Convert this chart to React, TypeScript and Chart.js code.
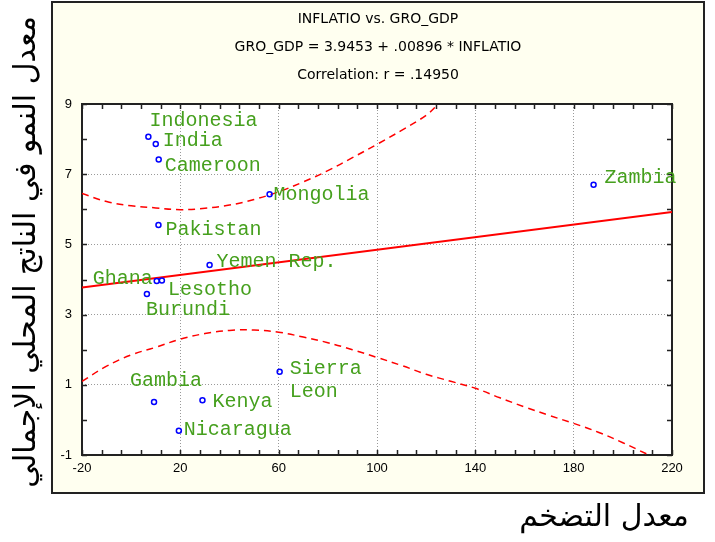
import React, { useEffect, useRef } from "react";
import { Chart, registerables } from "chart.js";

Chart.register(...registerables);

// ---- data ----
const countries = ["Indonesia", "India", "Cameroon", "Mongolia", "Pakistan", "Yemen Rep.", "Ghana", "Lesotho", "Burundi", "Sierra|Leon", "Gambia", "Kenya", "Nicaragua", "Zambia"];
const inflation = [7.0, 10.0, 11.2, 56.3, 11.1, 31.9, 10.4, 12.5, 6.4, 60.4, 9.3, 29.0, 19.4, 188.1];
const gdpGrowth = [8.07, 7.86, 7.42, 6.43, 5.55, 4.41, 3.96, 3.97, 3.59, 1.37, 0.51, 0.56, -0.31, 6.70];

const fitX = [-20, 220];
const fitY = [3.77, 5.92];

const upperX = [-20, -10, 0, 10, 20, 30, 40, 50, 60, 70, 80, 90, 100, 110, 120, 125];
const upperY = [6.45, 6.22, 6.1, 6.04, 5.99, 6.03, 6.12, 6.28, 6.5, 6.78, 7.1, 7.47, 7.85, 8.25, 8.68, 9.0];

const lowerX = [-20, -10, 0, 10, 20, 30, 40, 50, 60, 70, 80, 90, 100, 110, 120, 130, 140, 150, 160, 170, 180, 190, 200, 210];
const lowerY = [1.1, 1.53, 1.85, 2.07, 2.3, 2.46, 2.55, 2.56, 2.5, 2.36, 2.2, 2.0, 1.78, 1.55, 1.3, 1.1, 0.9, 0.63, 0.37, 0.13, -0.1, -0.35, -0.65, -0.98];

const titleLines = ["INFLATIO vs. GRO_GDP", "GRO_GDP = 3.9453 + .00896 * INFLATIO", "Correlation: r = .14950"];
const xAxisTitle = "معدل التضخم";
const yAxisTitle = "معدل النمو في الناتج المحلي الإجمالي";

const xMin = -20, xMax = 220, xStep = 8, xLabelEvery = 40;
const yMin = -1, yMax = 9, yStep = 1, yLabelEvery = 2;

// label placement (pixel offsets from the point), layout only
const labelDx = [1, 7, 6, 4, 7, 7, -4, 6, -1, 10, -24, 10, 5, 11];
const labelDy = [-11, 2, 12, 6, 10, 2, 3, 14, 21, 2, -16, 7, 4, -2];
const labelAlign = ["left", "left", "left", "left", "left", "left", "right", "left", "left", "left", "left", "left", "left", "left"];

const PANEL = { l: 52, t: 2, r: 704, b: 493 };
const CREAM = "#FFFFF0";
const GREEN = "#46a01e";

const zip = (xs: number[], ys: number[]) => xs.map((x, i) => ({ x, y: ys[i] }));

const decorPlugin = {
  id: "decor",
  beforeDraw(chart: any) {
    const { ctx, chartArea: ca } = chart;
    ctx.save();
    ctx.fillStyle = "#ffffff";
    ctx.fillRect(0, 0, chart.width, chart.height);
    ctx.fillStyle = CREAM;
    ctx.fillRect(PANEL.l, PANEL.t, PANEL.r - PANEL.l, PANEL.b - PANEL.t);
    ctx.lineWidth = 2;
    ctx.strokeStyle = "#222";
    ctx.strokeRect(PANEL.l, PANEL.t, PANEL.r - PANEL.l, PANEL.b - PANEL.t);
    ctx.fillStyle = "#ffffff";
    ctx.fillRect(ca.left, ca.top, ca.right - ca.left, ca.bottom - ca.top);
    // title lines
    ctx.fillStyle = "#000";
    ctx.font = "14px 'DejaVu Sans', sans-serif";
    ctx.textAlign = "center";
    ctx.textBaseline = "middle";
    const cx = (PANEL.l + PANEL.r) / 2;
    titleLines.forEach((t, i) => ctx.fillText(t, cx, 19 + i * 28));
    // Arabic axis titles
    ctx.font = "30px 'DejaVu Sans', sans-serif";
    ctx.direction = "rtl";
    ctx.textAlign = "center";
    ctx.fillText(xAxisTitle, 604, 518);
    ctx.save();
    ctx.translate(27, 252);
    ctx.rotate(-Math.PI / 2);
    ctx.fillText(yAxisTitle, 0, 0);
    ctx.restore();
    ctx.restore();
  },
  beforeDatasetsDraw(chart: any) {
    const { ctx, chartArea: ca, scales } = chart;
    ctx.save();
    ctx.strokeStyle = "#222";
    ctx.lineWidth = 1.5;
    const tl = 5;
    ctx.beginPath();
    for (let v = xMin; v <= xMax + 1e-9; v += xStep) {
      const px = Math.round(scales.x.getPixelForValue(v)) + 0.5;
      ctx.moveTo(px, ca.bottom); ctx.lineTo(px, ca.bottom - tl);
      ctx.moveTo(px, ca.top); ctx.lineTo(px, ca.top + tl);
    }
    for (let v = yMin; v <= yMax + 1e-9; v += yStep) {
      const py = Math.round(scales.y.getPixelForValue(v)) + 0.5;
      ctx.moveTo(ca.left, py); ctx.lineTo(ca.left + tl, py);
      ctx.moveTo(ca.right, py); ctx.lineTo(ca.right - tl, py);
    }
    ctx.stroke();
    ctx.lineWidth = 2;
    ctx.strokeRect(ca.left, ca.top, ca.right - ca.left, ca.bottom - ca.top);
    ctx.restore();
  },
  afterDatasetsDraw(chart: any) {
    const { ctx } = chart;
    const meta = chart.getDatasetMeta(0);
    ctx.save();
    ctx.fillStyle = GREEN;
    ctx.font = "20px 'Liberation Mono', 'Courier New', monospace";
    ctx.textBaseline = "alphabetic";
    countries.forEach((name, i) => {
      const el = meta.data[i];
      if (!el) return;
      ctx.textAlign = labelAlign[i] as CanvasTextAlign;
      const lines = name.split("|");
      lines.forEach((ln, j) => {
        ctx.fillText(ln, el.x + labelDx[i], el.y + labelDy[i] + j * 23);
      });
    });
    ctx.restore();
  },
};

const gridColor = (min: number, max: number, every: number) => (c: any) => {
  const v = c.tick ? c.tick.value : NaN;
  return (v - min) % every === 0 && v !== min && v !== max ? "#9a9a9a" : "rgba(0,0,0,0)";
};

export default function App() {
  const ref = useRef<HTMLCanvasElement>(null);
  useEffect(() => {
    if (!ref.current) return;
    const chart = new Chart(ref.current, {
      type: "scatter",
      data: {
        datasets: [
          {
            label: "countries",
            data: zip(inflation, gdpGrowth),
            borderColor: "#0000ff",
            backgroundColor: "rgba(0,0,0,0)",
            borderWidth: 1.5,
            pointRadius: 2.5,
            pointHoverRadius: 2.5,
            showLine: false,
          },
          {
            label: "fit",
            data: zip(fitX, fitY),
            showLine: true,
            borderColor: "#ff0000",
            borderWidth: 2,
            pointRadius: 0,
            clip: 0,
          },
          {
            label: "upper",
            data: zip(upperX, upperY),
            showLine: true,
            borderColor: "#ff0000",
            borderWidth: 1.5,
            borderDash: [7, 5],
            tension: 0.4,
            pointRadius: 0,
            clip: 0,
          },
          {
            label: "lower",
            data: zip(lowerX, lowerY),
            showLine: true,
            borderColor: "#ff0000",
            borderWidth: 1.5,
            borderDash: [7, 5],
            tension: 0.4,
            pointRadius: 0,
            clip: 0,
          },
        ],
      },
      options: {
        animation: false,
        responsive: false,
        events: [],
        layout: { padding: { left: 52, top: 104, right: 43, bottom: 62 } },
        plugins: { legend: { display: false }, tooltip: { enabled: false }, title: { display: false } },
        scales: {
          x: {
            type: "linear",
            min: xMin,
            max: xMax,
            afterFit: (s: any) => { s.height = 25; },
            border: { display: false, dash: [1, 2] },
            grid: { drawTicks: false, lineWidth: 1, color: gridColor(xMin, xMax, xLabelEvery) },
            ticks: {
              stepSize: xStep,
              autoSkip: false,
              maxRotation: 0,
              padding: 6,
              color: "#000",
              font: { family: "'Liberation Sans', Arial, sans-serif", size: 13 },
              callback: (v: any) => ((Number(v) - xMin) % xLabelEvery === 0 ? String(v) : ""),
            },
          },
          y: {
            type: "linear",
            min: yMin,
            max: yMax,
            afterFit: (s: any) => { s.width = 30; },
            border: { display: false, dash: [1, 2] },
            grid: { drawTicks: false, lineWidth: 1, color: gridColor(yMin, yMax, yLabelEvery) },
            ticks: {
              stepSize: yStep,
              autoSkip: false,
              padding: 10,
              color: "#000",
              font: { family: "'Liberation Sans', Arial, sans-serif", size: 13 },
              callback: (v: any) => ((Number(v) - yMin) % yLabelEvery === 0 ? String(v) : ""),
            },
          },
        },
      } as any,
      plugins: [decorPlugin],
    });
    return () => chart.destroy();
  }, []);
  return (
    <div style={{ position: "absolute", left: 0, top: 0, width: 715, height: 542 }}>
      <canvas ref={ref} width={715} height={542} style={{ width: 715, height: 542, display: "block" }} />
    </div>
  );
}
